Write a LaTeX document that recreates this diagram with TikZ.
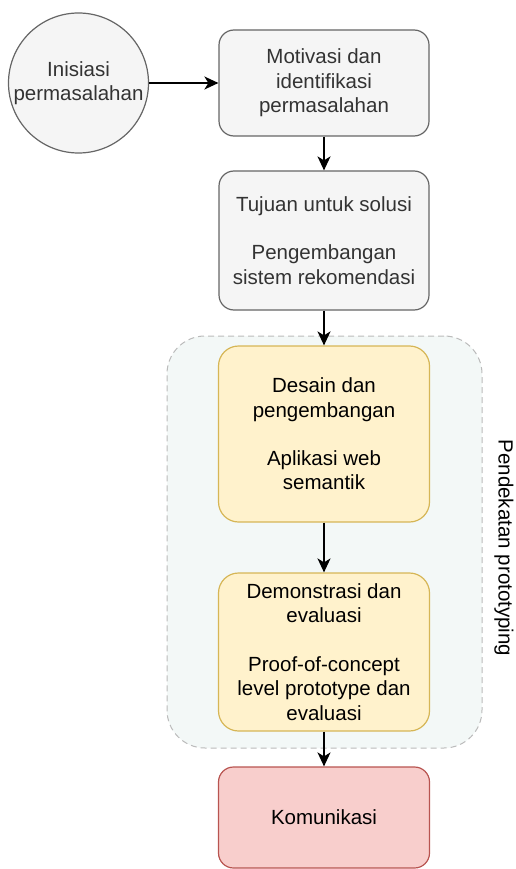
\documentclass[tikz,border=0pt]{standalone}
\usepackage{fontspec}
\setmainfont{Liberation Sans}
\usetikzlibrary{arrows.meta}
\definecolor{greyfill}{HTML}{F5F5F5}
\definecolor{greydraw}{HTML}{666666}
\definecolor{greytext}{HTML}{333333}
\definecolor{yelfill}{HTML}{FFF2CC}
\definecolor{yeldraw}{HTML}{D6B656}
\definecolor{redfill}{HTML}{F8CECC}
\definecolor{reddraw}{HTML}{B85450}
\definecolor{grpfill}{HTML}{F3F8F7}
\definecolor{grpdraw}{HTML}{BBBBBB}
\tikzset{
  lbl/.style={font=\fontsize{20.5}{24.3}\selectfont, align=center, inner sep=0pt},
  greybox/.style={lbl, draw=greydraw, fill=greyfill, text=greytext, line width=1.2pt, rounded corners=15pt, minimum width=210pt},
  yelbox/.style={lbl, draw=yeldraw, fill=yelfill, text=black, line width=1.2pt, rounded corners=20pt, minimum width=211pt},
  redbox/.style={lbl, draw=reddraw, fill=redfill, text=black, line width=1.2pt, rounded corners=15pt, minimum width=211pt},
  grpbox/.style={draw=grpdraw, fill=grpfill, line width=1pt, dash pattern=on 6pt off 4pt, rounded corners=38pt, inner sep=0pt},
  conn/.style={draw=black, line width=1.7pt, -{Stealth[length=14pt,width=13pt,inset=4pt]}}
}
\begin{document}
\begin{tikzpicture}[x=1pt,y=-1pt]
\useasboundingbox (0,0) rectangle (515,869);
\node[grpbox, minimum width=315pt, minimum height=412pt] (grp) at (324.5,542) {};
\node[lbl, rotate=-90] (grplbl) at (504,548) {Pendekatan prototyping};

\node[lbl, circle, draw=greydraw, fill=greyfill, text=greytext, line width=1.2pt, minimum size=140pt] (init) at (78.5,83) {Inisiasi\\permasalahan};
\node[greybox, minimum height=106pt] (b1) at (324,83) {Motivasi dan\\identifikasi\\permasalahan};
\node[greybox, minimum height=139pt] (b2) at (324,240.5) {Tujuan untuk solusi\\[24.3pt]Pengembangan\\sistem rekomendasi};
\node[yelbox, minimum height=176pt] (b3) at (324,434) {Desain dan\\pengembangan\\[24.3pt]Aplikasi web\\semantik};
\node[yelbox, minimum height=158pt] (b4) at (324,652) {Demonstrasi dan\\evaluasi\\[24.3pt]Proof-of-concept\\level prototype dan\\evaluasi};
\node[redbox, minimum height=101pt] (b5) at (324,817.5) {Komunikasi};

\draw[conn] (init) -- (b1);
\draw[conn] (b1) -- (b2);
\draw[conn] (b2) -- (b3);
\draw[conn] (b3) -- (b4);
\draw[conn] (b4) -- (b5);
\end{tikzpicture}
\end{document}
